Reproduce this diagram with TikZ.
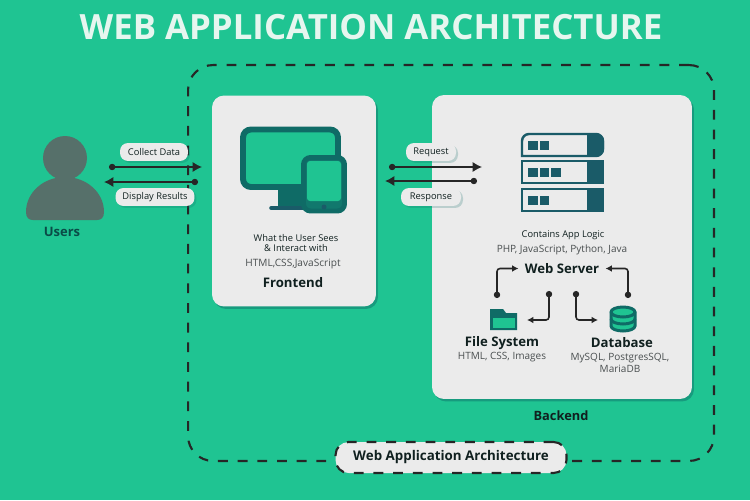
\documentclass[tikz,border=0pt]{standalone}
\usepackage{fontspec}
\setmainfont{Open Sans}
\usetikzlibrary{arrows.meta}
\usetikzlibrary{shadows}
\definecolor{bggreen}{HTML}{1FC492}
\definecolor{cardgrey}{HTML}{EBEBEB}
\definecolor{titlewhite}{HTML}{E6F6EF}
\definecolor{usergrey}{HTML}{56706A}
\definecolor{tealdark}{HTML}{0F6B66}
\definecolor{rackblue}{HTML}{1A5B68}
\definecolor{inkdark}{HTML}{10201F}
\definecolor{subgrey}{HTML}{4A4F50}
\tikzset{
  card/.style={fill=cardgrey, rounded corners=0.24cm, inner sep=0pt,
    drop shadow={shadow xshift=0.04cm, shadow yshift=-0.05cm, fill=tealdark, opacity=0.45}},
  pill/.style={fill=cardgrey, rounded corners=0.16cm, inner sep=0pt, minimum height=0.36cm,
    text=inkdark, font=\fontsize{5.3}{6}\selectfont,
    drop shadow={shadow xshift=0.04cm, shadow yshift=-0.04cm, fill=tealdark, opacity=0.22}},
  linkarrow/.style={draw=black!85, line width=1pt, {Circle[length=3.6pt]}-{Latex[length=5.4pt,width=6pt]}},
  smallarrow/.style={draw=black!85, line width=0.9pt, rounded corners=0.06cm, {Circle[length=3.6pt]}-{Latex[length=3.6pt,width=3.8pt]}},
  dashline/.style={draw=black!85, line width=1.2pt, dash pattern=on 5.6pt off 5.6pt},
  headtext/.style={font=\fontsize{7.5}{9}\bfseries\selectfont, text=inkdark},
  subtext/.style={font=\fontsize{5.7}{6.8}\selectfont, text=subgrey, align=center},
}
\begin{document}
\begin{tikzpicture}[x=0.02cm, y=-0.02cm]
\useasboundingbox (0,0) rectangle (750,500);
\fill[bggreen] (0,0) rectangle (750,500);

%%% title
\node (title) at (371,27) {\fontsize{19.8}{22}\bfseries\selectfont\color{titlewhite}WEB APPLICATION ARCHITECTURE};

%%% dashed box
\node (archbox) [dashline, rounded corners=0.5cm, minimum width=10.52cm, minimum height=7.92cm] at (451,263) {};

%%% cards
\node (frontcard) [card, minimum width=3.28cm, minimum height=4.22cm] at (294,201) {};
\node (backcard) [card, minimum width=5.2cm, minimum height=6.08cm] at (562,247) {};

%%% users
\fill[usergrey] (65,158) circle (22);
\fill[usergrey] (26,212) .. controls (26,192) and (44,177) .. (65,177) .. controls (86,177) and (104,192) .. (104,212)
  .. controls (104,218) and (101,220) .. (97,220) -- (33,220) .. controls (29,220) and (26,218) .. (26,212) -- cycle;
\node (users) [font=\fontsize{7.4}{9}\bfseries\selectfont, text=tealdark!70!black] at (62,232) {Users};

%%% frontend icon
\draw[tealdark, line width=3.4pt, fill=bggreen, rounded corners=0.16cm] (243,129.5) rectangle (338,187);
\fill[tealdark] (278,190) rectangle (304,208);
\draw[rackblue, line width=2pt, line cap=round] (271,208) -- (304,208);
\draw[tealdark, line width=2.8pt, fill=tealdark!85!bggreen, rounded corners=0.14cm] (303.5,157.5) rectangle (344.5,211);
\fill[bggreen, rounded corners=0.06cm] (307,161) rectangle (341,201);
\fill[rackblue] (324,207) circle (2.5);

%%% frontend text
\node (frontsee) [align=center, text=inkdark, font=\fontsize{5.3}{5.8}\selectfont] at (296,243) {What the User Sees\\\& Interact with};
\node (fronttech) [subtext, font=\fontsize{5.75}{6.8}\selectfont] at (293,264) {HTML,CSS,JavaScript};
\node (fronthead) [headtext] at (293,282.5) {Frontend};

%%% server icon
\foreach \ytop/\nbox in {161/3,189/2}{
  \draw[rackblue, line width=1.4pt, fill=cardgrey] (522,\ytop) rectangle (603,\ytop+22);
  \fill[rackblue] (587,\ytop) rectangle (604,\ytop+22);
  \foreach \k in {1,...,\nbox}
    \fill[rackblue] (528+11.5*\k-11.5,\ytop+7) rectangle +(9.5,9);
}
\draw[rackblue, line width=1.4pt, fill=cardgrey, rounded corners=0.14cm] (522,156) -- (522,134) -- (603,134) -- (603,156) [sharp corners] -- cycle;
\fill[rackblue, rounded corners=0.14cm] (587,134) -- (604,134) -- (604,156) [sharp corners] -- (587,156) -- cycle;
\fill[rackblue] (528,141) rectangle +(9.5,9);
\fill[rackblue] (539.5,141) rectangle +(9.5,9);

%%% backend text
\node (backlogic) [text=inkdark, font=\fontsize{5.3}{6}\selectfont] at (563,235) {Contains App Logic};
\node (backtech) [subtext] at (562,250) {PHP, JavaScript, Python, Java};
\node (webserver) [headtext, inner sep=0.12cm] at (562,268.5) {Web Server};

%%% folder
\fill[tealdark] (490,309) -- (503,309) -- (506,313) -- (517,313) -- (517,330) -- (490,330) -- cycle;
\fill[bggreen] (492.5,318) -- (515,318) -- (515,328) -- (492.5,328) -- cycle;

%%% database
\draw[tealdark, line width=1.7pt, fill=bggreen] (611,312) -- (611,326) arc[start angle=180, end angle=360, x radius=12, y radius=-5] -- (635,312) arc[start angle=0, end angle=180, x radius=12, y radius=-5] -- cycle;
\draw[tealdark, line width=1.7pt] (611,312) arc[start angle=180, end angle=360, x radius=12, y radius=-5];
\draw[tealdark, line width=1.7pt] (611,319) arc[start angle=180, end angle=360, x radius=12, y radius=-5];

%%% names
\node (filehead) [headtext] at (502,343) {File System};
\node (filetech) [subtext] at (502,357) {HTML, CSS, Images};
\node (dbhead) [headtext] at (622,343) {Database};
\node (dbtech) [subtext] at (620,363) {MySQL, PostgresSQL,\\MariaDB};
\node (backhead) [font=\fontsize{7.3}{8}\bfseries\selectfont, text=inkdark] at (561,416) {Backend};

%%% links between users and frontend
\coordinate (collectin) at (109,167);
\coordinate (collectout) at (202,167);
\coordinate (displayin) at (198,182);
\coordinate (displayout) at (104,182);
\draw[linkarrow] (collectin) -- (collectout);
\draw[linkarrow] (displayin) -- (displayout);
\node (collect) [pill, minimum width=1.36cm] at (154,152) {Collect Data};
\node (display) [pill, minimum width=1.58cm] at (155,197) {Display Results};

%%% links between frontend and backend
\coordinate (requestin) at (389,167);
\coordinate (requestout) at (482,167);
\coordinate (responsein) at (477,181);
\coordinate (responseout) at (385,181);
\draw[linkarrow] (requestin) -- (requestout);
\draw[linkarrow] (responsein) -- (responseout);
\node (request) [pill, minimum width=1cm] at (431,152) {Request};
\node (response) [pill, minimum width=1.2cm] at (431,197) {Response};

%%% links inside backend
\coordinate (fileout) at (497,298);
\coordinate (dbout) at (628,298);
\coordinate (wsfile) at (549,291);
\coordinate (wsdb) at (576,291);
\coordinate (filein) at (527,320);
\coordinate (dbin) at (598,320);
\draw[smallarrow] (fileout) |- (webserver.west);
\draw[smallarrow] (dbout) |- (webserver.east);
\draw[smallarrow] (wsfile) |- (filein);
\draw[smallarrow] (wsdb) |- (dbin);

%%% bottom label
\node (archpill) [dashline, fill=cardgrey, rounded corners=0.26cm, minimum width=4.62cm, minimum height=0.62cm] at (451,457.5) {};
\node (archtext) [font=\fontsize{7.6}{9}\bfseries\selectfont, text=inkdark] at (451,457) {Web Application Architecture};
\end{tikzpicture}
\end{document}
